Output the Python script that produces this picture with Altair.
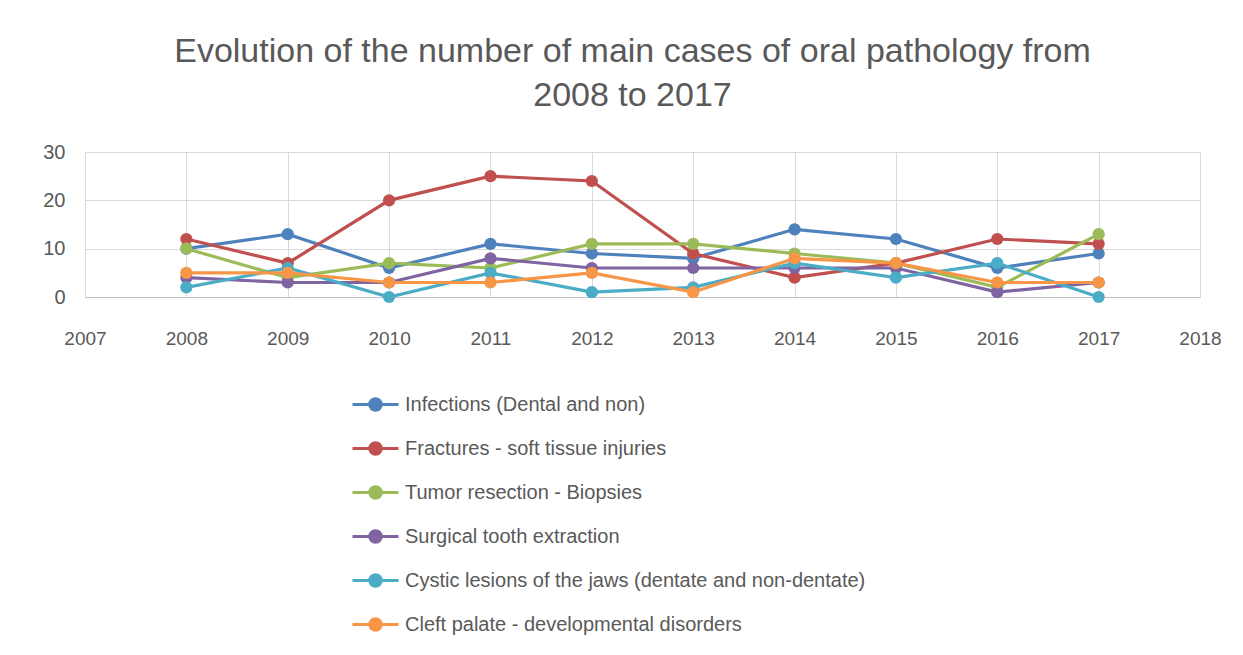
import altair as alt
import pandas as pd

years = [2008, 2009, 2010, 2011, 2012, 2013, 2014, 2015, 2016, 2017]
series_names = [
    "Infections (Dental and non)",
    "Fractures - soft tissue injuries",
    "Tumor resection - Biopsies",
    "Surgical tooth extraction",
    "Cystic lesions of the jaws (dentate and non-dentate)",
    "Cleft palate - developmental disorders",
]
infections = [10, 13, 6, 11, 9, 8, 14, 12, 6, 9]
fractures = [12, 7, 20, 25, 24, 9, 4, 7, 12, 11]
tumor = [10, 4, 7, 6, 11, 11, 9, 7, 2, 13]
surgical = [4, 3, 3, 8, 6, 6, 6, 6, 1, 3]
cystic = [2, 6, 0, 5, 1, 2, 7, 4, 7, 0]
cleft = [5, 5, 3, 3, 5, 1, 8, 7, 3, 3]
colors = ["#4F81BD", "#C0504D", "#9BBB59", "#8064A2", "#4BACC6", "#F79646"]

values = [infections, fractures, tumor, surgical, cystic, cleft]
rows = []
for name, vals in zip(series_names, values):
    for y, v in zip(years, vals):
        rows.append({"Year": y, "Cases": v, "Series": name})
df = pd.DataFrame(rows)

TEXT = "#595959"
FONT = "Liberation Sans"

legend_symbol = "M-1,0H1M-0.25,0A0.25,0.25,0,1,1,0.25,0A0.25,0.25,0,1,1,-0.25,0Z"

color = alt.Color(
    "Series:N",
    scale=alt.Scale(domain=series_names, range=colors),
    legend=alt.Legend(
        title=None,
        orient="none",
        legendX=266,
        legendY=228,
        direction="vertical",
        symbolType=legend_symbol,
        symbolSize=2116,
        symbolStrokeWidth=3,
        labelFontSize=20,
        labelFont=FONT,
        labelColor=TEXT,
        labelOffset=5,
        rowPadding=7,
        labelLimit=800,
    ),
)

x = alt.X(
    "Year:Q",
    scale=alt.Scale(domain=[2007, 2018], nice=False, zero=False),
    axis=alt.Axis(
        title=None,
        values=list(range(2007, 2019)),
        format="d",
        grid=True,
        gridColor="#d9d9d9",
        ticks=False,
        domainColor="#bfbfbf",
        labelPadding=32,
        labelFlush=False,
        labelFontSize=19,
        labelFont=FONT,
        labelColor=TEXT,
    ),
)
y = alt.Y(
    "Cases:Q",
    scale=alt.Scale(domain=[0, 30], nice=False),
    axis=alt.Axis(
        title=None,
        values=[0, 10, 20, 30],
        grid=True,
        gridColor="#d9d9d9",
        ticks=False,
        domain=False,
        labelPadding=20,
        labelFlush=False,
        labelFontSize=20,
        labelFont=FONT,
        labelColor=TEXT,
    ),
)

lines = alt.Chart(df).mark_line(strokeWidth=3.2).encode(x=x, y=y, color=color)
points = alt.Chart(df).mark_circle(size=150, opacity=1).encode(x=x, y=y, color=color)

chart = (
    alt.layer(lines, points)
    .properties(
        width=1115,
        height=145,
        title=alt.Title(
            ["Evolution of the number of main cases of oral pathology from", "2008 to 2017"],
            fontSize=34,
            font=FONT,
            fontWeight="normal",
            color=TEXT,
            lineHeight=44,
            offset=29,
            anchor="middle",
            dx=-10,
        ),
        autosize=alt.AutoSizeParams(type="none"),
        padding={"left": 85, "top": 152, "right": 43, "bottom": 358},
    )
    .configure_view(stroke="#d9d9d9")
    .configure(background="white")
)

chart.save("out.html", embed_options={"renderer": "svg", "actions": False})
